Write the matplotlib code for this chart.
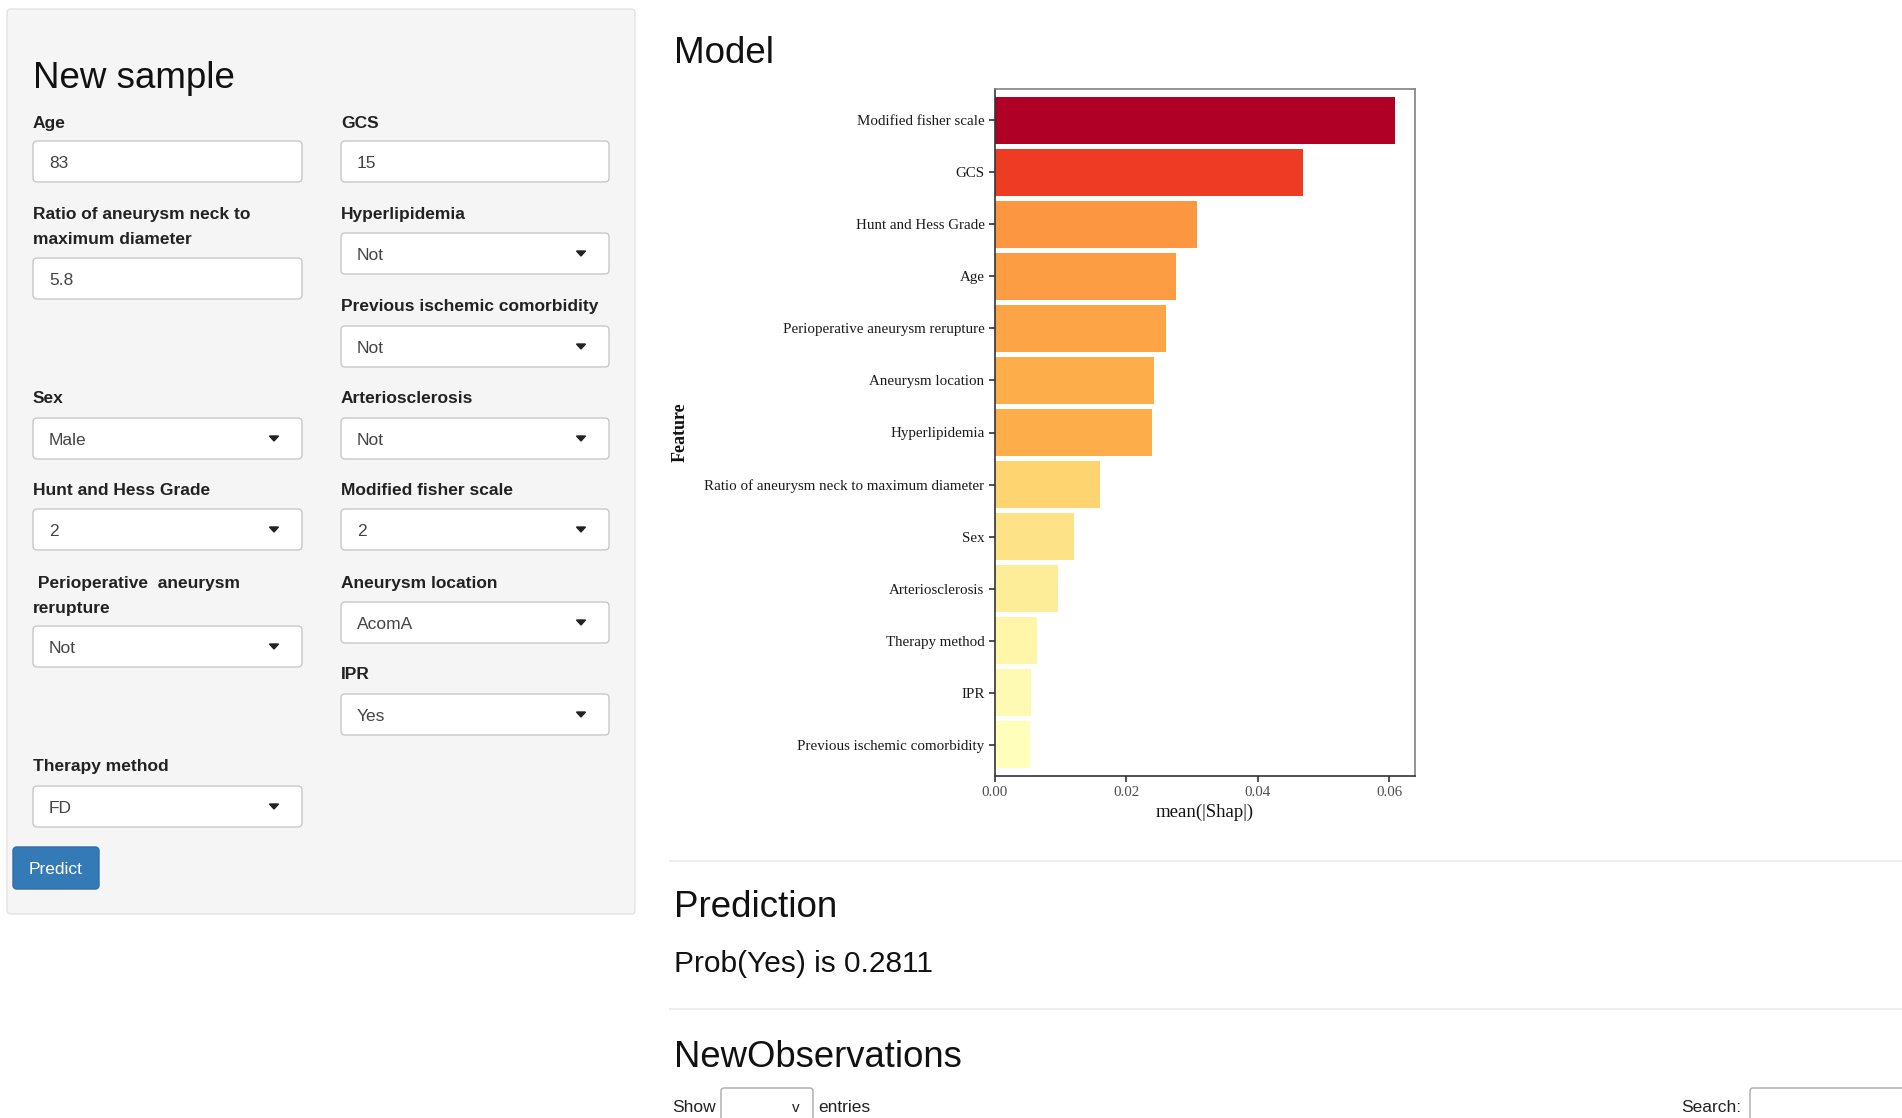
import matplotlib.pyplot as plt
from matplotlib.patches import FancyBboxPatch
import numpy as np

# feature importance shown in the "Model" chart (top to bottom)
features = ['Modified fisher scale', 'GCS', 'Hunt and Hess Grade', 'Age',
            'Perioperative aneurysm rerupture', 'Aneurysm location', 'Hyperlipidemia',
            'Ratio of aneurysm neck to maximum diameter', 'Sex', 'Arteriosclerosis',
            'Therapy method', 'IPR', 'Previous ischemic comorbidity']
mean_shap = [0.0608, 0.0468, 0.0308, 0.0275, 0.0260, 0.0242, 0.0239,
             0.0159, 0.0120, 0.0096, 0.0064, 0.0055, 0.0054]
x_ticks = [0.00, 0.02, 0.04, 0.06]
x_ticklabels = ['0.00', '0.02', '0.04', '0.06']

# form fields of the "New sample" panel
field_labels = [['Age'], ['GCS'],
                ['Ratio of aneurysm neck to', 'maximum diameter'], ['Hyperlipidemia'],
                ['Previous ischemic comorbidity'],
                ['Sex'], ['Arteriosclerosis'],
                ['Hunt and Hess Grade'], ['Modified fisher scale'],
                [' Perioperative  aneurysm', 'rerupture'], ['Aneurysm location'],
                ['IPR'], ['Therapy method']]
field_values = ['83', '15', '5.8', 'Not', 'Not', 'Male', 'Not', '2', '2',
                'Not', 'AcomA', 'Yes', 'FD']
prob_text = 'Prob(Yes) is 0.2811'

bar_colors = ['#b10026', '#ee3b23', '#fd9640', '#fd9d43', '#fda446', '#fdad4a',
              '#fdae4b', '#fed470', '#fee287', '#feed98', '#fff6aa', '#fffab3', '#ffffbb']

# layout: column, baseline of first label line, top of box, dropdown?
field_layout = [(0, 128, 141, False), (1, 128, 141, False),
                (0, 219, 258, False), (1, 219, 233, True),
                (1, 311, 326, True),
                (0, 403, 418, True), (1, 403, 418, True),
                (0, 495, 509, True), (1, 495, 509, True),
                (0, 588, 626, True), (1, 588, 602, True),
                (1, 679, 694, True), (0, 771, 786, True)]
col_x = [(33, 302), (341, 609)]

sans = 'Liberation Sans'
serif = 'Liberation Serif'

fig = plt.figure(figsize=(19.02, 11.18), dpi=100)
ui = fig.add_axes([0, 0, 1, 1])
ui.set_xlim(0, 1902)
ui.set_ylim(1118, 0)
ui.axis('off')


def rbox(x0, y0, x1, y1, fc, ec, r=4, lw=1.0):
    ui.add_patch(FancyBboxPatch((x0 + r, y0 + r), x1 - x0 - 2 * r, y1 - y0 - 2 * r,
                                boxstyle='round,pad=%d' % r, fc=fc, ec=ec, lw=lw))


# left panel
rbox(7, 9, 635, 914, '#f5f5f5', '#e3e3e3')
ui.text(33, 88, 'New sample', fontsize=26.5, family=sans, color='#111111')

for lines, value, (col, lab_y, box_y, drop) in zip(field_labels, field_values, field_layout):
    x0, x1 = col_x[col]
    for i, line in enumerate(lines):
        ui.text(x0, lab_y + 25 * i, line, fontsize=12.5, family=sans,
                weight='bold', color='#222222', va='baseline')
    rbox(x0, box_y, x1, box_y + 41, 'white', '#c8c8c8')
    ui.text(x0 + 16, box_y + 27, value, fontsize=12.5, family=sans,
            color='#444444', va='baseline')
    if drop:
        cx, cy = x1 - 28, box_y + 20.5
        ui.fill([cx - 4.5, cx + 4.5, cx], [cy - 2.5, cy - 2.5, cy + 2.5], color='#222222')

# predict button
rbox(13, 847, 99, 889, '#337ab7', '#2e6da4')
ui.text(56, 874, 'Predict', fontsize=12.5, family=sans, color='white',
        ha='center', va='baseline')

# right side headings
ui.text(674, 63, 'Model', fontsize=26.5, family=sans, color='#111111', va='baseline')
ui.plot([670, 1902], [861, 861], color='#eeeeee', lw=1.5)
ui.text(674, 917, 'Prediction', fontsize=26.5, family=sans, color='#111111', va='baseline')
ui.text(674, 972, prob_text, fontsize=21.5, family=sans, color='#111111', va='baseline')
ui.plot([670, 1902], [1009, 1009], color='#eeeeee', lw=1.5)
ui.text(674, 1067, 'NewObservations', fontsize=26.3, family=sans, color='#111111',
        va='baseline')
ui.text(672, 1112, 'Show', fontsize=12.5, family=sans, color='#222222', va='baseline')
rbox(721, 1088, 813, 1130, 'white', '#aaaaaa', r=3)
ui.text(796, 1112, 'v', fontsize=11, family=sans, color='#222222', ha='center',
        va='baseline')
ui.text(818, 1112, 'entries', fontsize=12.5, family=sans, color='#222222', va='baseline')
ui.text(1681, 1112, 'Search:', fontsize=12.5, family=sans, color='#222222', va='baseline')
rbox(1750, 1088, 1910, 1130, 'white', '#aaaaaa', r=3)

# feature importance chart
ax = fig.add_axes([995 / 1902, 1 - 776 / 1118, 420 / 1902, 687 / 1118])
ypos = np.arange(len(features))
ax.barh(ypos, mean_shap, height=0.9, color=bar_colors)
ax.set_ylim(len(features) - 0.4, -0.6)
ax.set_xlim(0, 0.0639)
ax.set_yticks(ypos, features)
ax.set_xticks(x_ticks, x_ticklabels)
for s in ['left', 'bottom']:
    ax.spines[s].set_color('#333333')
    ax.spines[s].set_linewidth(1.2)
for s in ['top', 'right']:
    ax.spines[s].set_color('#808080')
    ax.spines[s].set_linewidth(1.2)
ax.tick_params(axis='y', length=4, width=1.2, color='#333333', pad=3.5,
               labelsize=10.8, labelcolor='#1a1a1a')
ax.tick_params(axis='x', length=4, width=1.2, color='#333333', pad=3.5,
               labelsize=10.8, labelcolor='#4d4d4d')
for lab in ax.get_xticklabels() + ax.get_yticklabels():
    lab.set_family(serif)
ax.set_xlabel('mean(|Shap|)', family=serif, fontsize=13.5, color='#111111', labelpad=3)
ax.set_ylabel('Feature', family=serif, fontsize=13, weight='bold', color='#111111')
ax.yaxis.set_label_coords(-0.729, 0.5)

fig.savefig('out.png', dpi=100)
